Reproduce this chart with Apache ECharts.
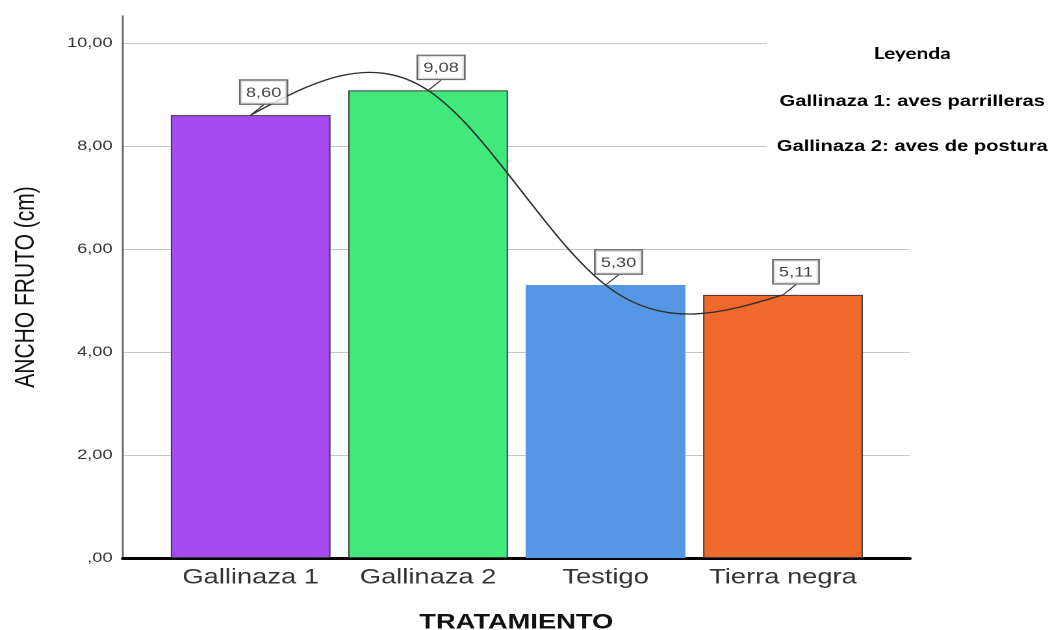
<!DOCTYPE html>
<html>
<head>
<meta charset="utf-8">
<script src="https://cdn.jsdelivr.net/npm/echarts@6/dist/echarts.min.js"></script>
<style>
  html, body { margin: 0; padding: 0; background: #fff; overflow: hidden; }
  /* The chart is laid out narrow and widened horizontally, giving the wide SPSS-style lettering */
  #chart { width: 808px; height: 630px; transform: scaleX(1.2995); transform-origin: 0 0; }
</style>
</head>
<body>
<div id="chart"></div>
<script>
// Treatments and mean fruit width (cm)
const tratamientos = ['Gallinaza 1', 'Gallinaza 2', 'Testigo', 'Tierra negra'];
const anchoFruto = [8.60, 9.08, 5.30, 5.11];
const coloresBarra = ['#A54AF1', '#41E97C', '#5597E5', '#F1692C'];
const bordesBarra = [1, 1, 0, 1];
const yTicks = [0, 2, 4, 6, 8, 10];
const leyenda = ['Leyenda', 'Gallinaza 1: aves parrilleras', 'Gallinaza 2: aves de postura'];

const coma = v => (v === 0 ? ',00' : v.toFixed(2).replace('.', ','));

// Second derivatives of a natural cubic spline through y (unit spacing)
function segundasDerivadas(y) {
  const n = y.length;
  const M = new Array(n).fill(0);
  if (n < 3) return M;
  const b = [], c = [], d = [];
  for (let i = 1; i < n - 1; i++) {
    b.push(4); c.push(1);
    d.push(6 * (y[i - 1] - 2 * y[i] + y[i + 1]));
  }
  const m = d.length;
  for (let i = 1; i < m; i++) {
    const w = 1 / b[i - 1];
    b[i] -= w * c[i - 1];
    d[i] -= w * d[i - 1];
  }
  const s = new Array(m);
  s[m - 1] = d[m - 1] / b[m - 1];
  for (let i = m - 2; i >= 0; i--) s[i] = (d[i] - c[i] * s[i + 1]) / b[i];
  for (let i = 0; i < m; i++) M[i + 1] = s[i];
  return M;
}

// Interpolation line through the bar tops, drawn as cubic Bezier segments
function dibujarCurva(params, api) {
  if (params.dataIndex !== 0) return null;
  const y = anchoFruto;
  const M = segundasDerivadas(y);
  const p = y.map((v, i) => api.coord([i, v]));
  let path = 'M' + p[0][0] + ' ' + p[0][1];
  for (let i = 0; i < y.length - 1; i++) {
    const dy = y[i + 1] - y[i];
    const s0 = dy - (2 * M[i] + M[i + 1]) / 6;
    const s1 = dy + (M[i] + 2 * M[i + 1]) / 6;
    const x0 = p[i][0], x1 = p[i + 1][0];
    const c1x = x0 + (x1 - x0) / 3, c2x = x0 + 2 * (x1 - x0) / 3;
    const c1y = api.coord([i, y[i] + s0 / 3])[1];
    const c2y = api.coord([i, y[i + 1] - s1 / 3])[1];
    path += ' C' + c1x + ' ' + c1y + ' ' + c2x + ' ' + c2y + ' ' + x1 + ' ' + p[i + 1][1];
  }
  return {
    type: 'path',
    shape: { pathData: path },
    style: { fill: 'none', stroke: '#2e2e2e', lineWidth: 1.3 }
  };
}

const chart = echarts.init(document.getElementById('chart'), null, { renderer: 'canvas', devicePixelRatio: 2 });

const estiloLeyenda = { fontFamily: 'Liberation Sans', fontWeight: 'bold', fontSize: 15.5, color: '#000', width: 224, align: 'center', lineHeight: 45, backgroundColor: '#fff', padding: [12, 0, 12, 0] };

const option = {
  animation: false,
  title: {
    left: 590, top: 29, padding: 0,
    backgroundColor: '#fff',
    z: 10,
    text: '{h|' + leyenda[0] + '}\n{l|' + leyenda[1] + '}\n{l|' + leyenda[2] + '}',
    textStyle: {
      rich: {
        h: { fontFamily: 'Lato', fontWeight: 'bold', fontSize: 16, color: '#000', width: 224, align: 'center', lineHeight: 50, backgroundColor: '#fff', padding: [14, 0, 14, 0] },
        l: estiloLeyenda
      }
    }
  },
  grid: [
    { left: 94.6, right: 108, top: 16, bottom: 72, outerBoundsMode: 'none' },   // axis frame
    { left: 94.6, right: 108, top: 43, bottom: 72, outerBoundsMode: 'none' },   // ticks and grid lines
    { left: 124.6, right: 137.2, top: 43, bottom: 72, outerBoundsMode: 'none' } // bars
  ],
  xAxis: [
    {
      gridIndex: 0, type: 'value', min: 0, max: 1,
      axisLine: { show: true, lineStyle: { color: '#000', width: 3 } },
      axisTick: { show: false }, axisLabel: { show: false }, splitLine: { show: false },
      name: 'TRATAMIENTO', nameLocation: 'middle', nameGap: 54,
      nameTextStyle: { fontFamily: 'Liberation Sans', fontWeight: 'bold', fontSize: 21, color: '#111' }
    },
    { gridIndex: 1, type: 'value', min: 0, max: 1, show: false },
    {
      gridIndex: 2, type: 'category', data: tratamientos,
      axisLine: { show: false }, axisTick: { show: false },
      axisLabel: { interval: 0, fontFamily: 'Liberation Sans', fontSize: 21, color: '#333', margin: 9 }
    }
  ],
  yAxis: [
    {
      gridIndex: 0, type: 'value', min: 0, max: 10.52,
      axisLine: { show: true, lineStyle: { color: '#666', width: 1.4 } },
      axisTick: { show: false }, axisLabel: { show: false }, splitLine: { show: false },
      name: 'ANCHO FRUTO (cm)', nameLocation: 'middle', nameGap: 64,
      nameTextStyle: { fontFamily: 'Liberation Sans', fontSize: 21, color: '#111' }
    },
    {
      gridIndex: 1, type: 'value', min: yTicks[0], max: yTicks[yTicks.length - 1], interval: 2,
      axisLine: { show: false }, axisTick: { show: false },
      splitLine: { show: true, lineStyle: { color: '#c6c6c6', width: 1 } },
      axisLabel: { fontFamily: 'Liberation Sans', fontSize: 14, color: '#333', margin: 8, formatter: coma }
    },
    { gridIndex: 2, type: 'value', min: 0, max: 10, show: false }
  ],
  series: [
    {
      type: 'bar', xAxisIndex: 2, yAxisIndex: 2,
      barCategoryGap: '10%',
      data: anchoFruto.map((v, i) => ({
        value: v,
        itemStyle: { color: coloresBarra[i], borderColor: '#3a3a3a', borderWidth: bordesBarra[i] }
      }))
    },
    {
      type: 'custom', xAxisIndex: 2, yAxisIndex: 2,
      data: anchoFruto.map((v, i) => [i, v]),
      encode: { x: 0, y: 1 },
      renderItem: dibujarCurva,
      z: 3
    },
    {
      type: 'scatter', xAxisIndex: 2, yAxisIndex: 2,
      data: anchoFruto,
      symbol: 'circle', symbolSize: 1,
      itemStyle: { color: '#333' },
      label: {
        show: true, position: 'top', distance: 11,
        formatter: p => coma(p.value),
        fontFamily: 'Liberation Sans', fontSize: 14, color: '#111', lineHeight: 15,
        backgroundColor: '#fff', borderColor: '#444', borderWidth: 1.3,
        padding: [5, 4, 3, 4]
      },
      labelLayout: { dx: 10 },
      labelLine: { show: true, lineStyle: { color: '#333', width: 1 } },
      z: 4
    }
  ]
};

chart.setOption(option);
</script>
</body>
</html>
